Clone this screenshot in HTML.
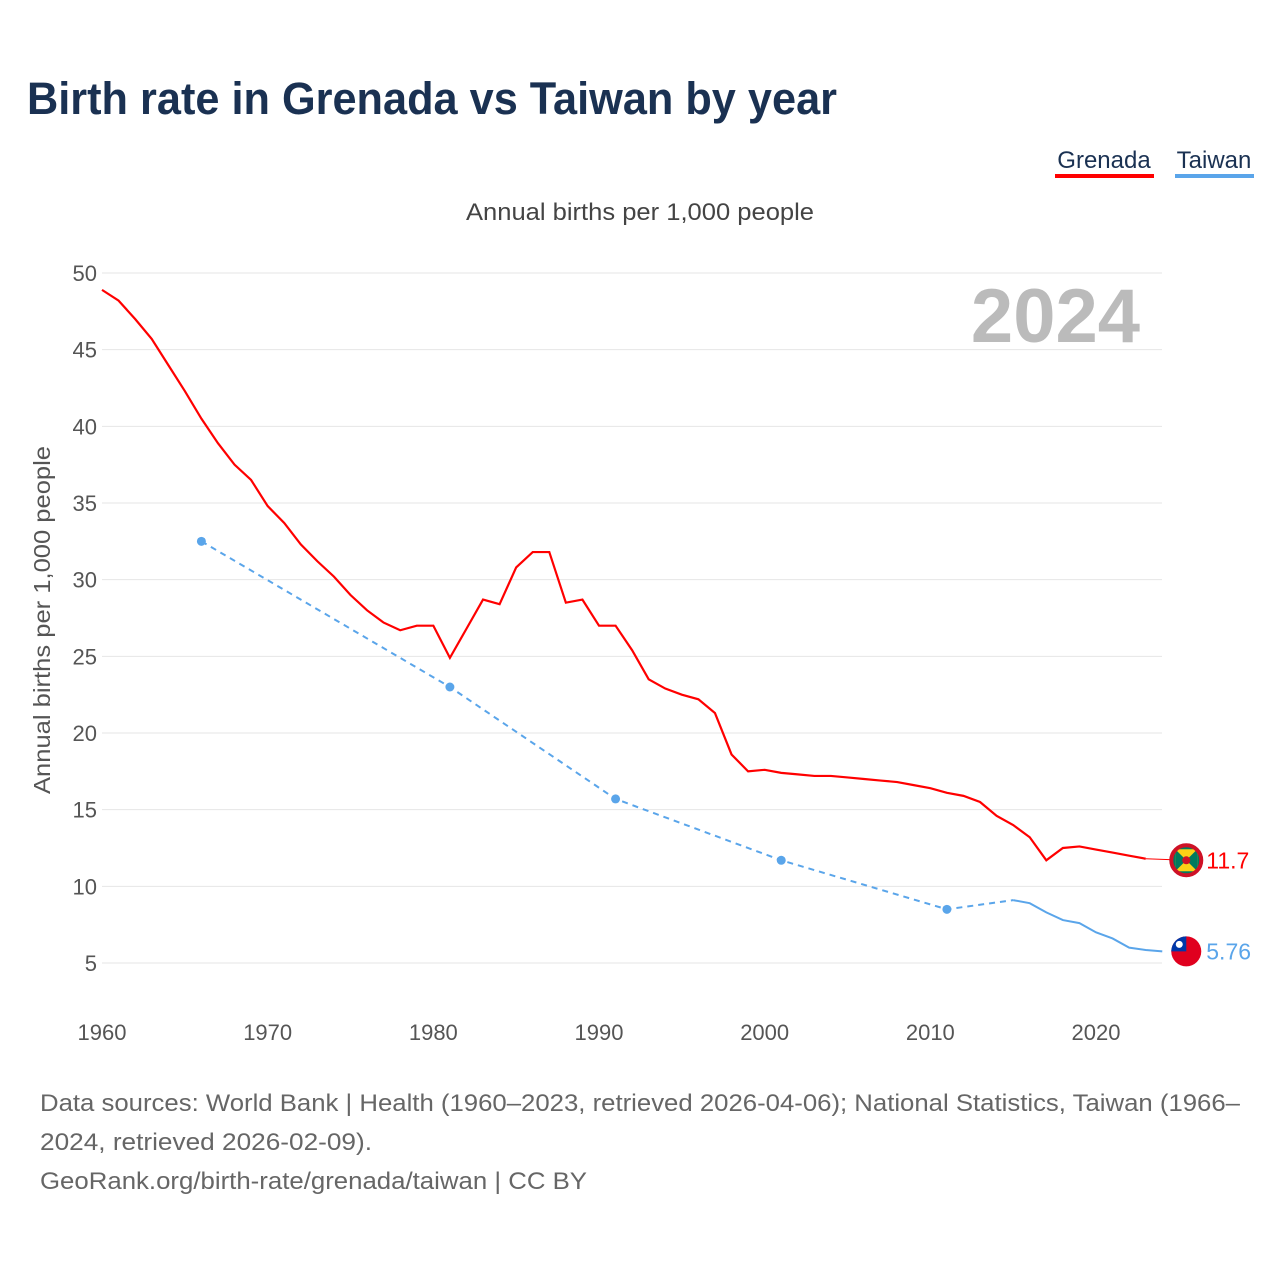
<!DOCTYPE html>
<html><head><meta charset="utf-8"><style>
body{margin:0;background:#fff;font-family:"Liberation Sans",sans-serif}
</style></head><body>
<svg width="1280" height="1280" xmlns="http://www.w3.org/2000/svg" font-family="Liberation Sans, sans-serif">
<text x="27" y="114" font-size="45" font-weight="bold" fill="#1a3152" textLength="810" lengthAdjust="spacingAndGlyphs">Birth rate in Grenada vs Taiwan by year</text>
<g><text x="1104" y="168" font-size="24" fill="#1a3152" text-anchor="middle">Grenada</text><rect x="1055" y="174" width="99" height="4" fill="#f00"/></g>
<g><text x="1214" y="168" font-size="24" fill="#1a3152" text-anchor="middle">Taiwan</text><rect x="1175" y="174" width="79" height="4" fill="#5aa5ea"/></g>
<text x="466" y="220" font-size="24" fill="#444" textLength="348" lengthAdjust="spacingAndGlyphs">Annual births per 1,000 people</text>
<text x="1140" y="342" font-size="76" font-weight="bold" fill="#bbb" text-anchor="end">2024</text>
<text transform="translate(50,620) rotate(-90)" font-size="23" fill="#555" text-anchor="middle" textLength="348" lengthAdjust="spacingAndGlyphs">Annual births per 1,000 people</text>
<g id="grid"></g><g id="series"></g>
<g font-size="24" fill="#666">
<text x="40" y="1111" textLength="1200" lengthAdjust="spacingAndGlyphs">Data sources: World Bank | Health (1960–2023, retrieved 2026-04-06); National Statistics, Taiwan (1966–</text>
<text x="40" y="1150" textLength="332" lengthAdjust="spacingAndGlyphs">2024, retrieved 2026-02-09).</text>
<text x="40" y="1189" textLength="547" lengthAdjust="spacingAndGlyphs">GeoRank.org/birth-rate/grenada/taiwan | CC BY</text>
</g>
</svg>
<script>
const yTicks=[5,10,15,20,25,30,35,40,45,50];
const xTicks=[1960,1970,1980,1990,2000,2010,2020];
const grenadaYears=[];for(let y=1960;y<=2023;y++)grenadaYears.push(y);
const grenadaValues=[48.9,48.2,47.0,45.7,44.0,42.3,40.5,38.9,37.5,36.5,34.8,33.7,32.3,31.2,30.2,29.0,28.0,27.2,26.7,27.0,27.0,24.9,26.8,28.7,28.4,30.8,31.8,31.8,28.5,28.7,27.0,27.0,25.4,23.5,22.9,22.5,22.2,21.3,18.6,17.5,17.6,17.4,17.3,17.2,17.2,17.1,17.0,16.9,16.8,16.6,16.4,16.1,15.9,15.5,14.6,14.0,13.2,11.7,12.5,12.6,12.4,12.2,12.0,11.8];
const grenadaLatest=11.7;
const taiwanSparseYears=[1966,1981,1991,2001,2011];
const taiwanSparseValues=[32.5,23.0,15.7,11.7,8.5];
const taiwanYears=[2015,2016,2017,2018,2019,2020,2021,2022,2023,2024];
const taiwanValues=[9.1,8.9,8.3,7.8,7.6,7.0,6.6,6.0,5.85,5.76];
const X=y=>102+(y-1960)*(994/60);
const Y=v=>963-(v-5)*(690/45);
const NS='http://www.w3.org/2000/svg';
function mk(t,a,p){const e=document.createElementNS(NS,t);for(const k in a)e.setAttribute(k,a[k]);p.appendChild(e);return e;}
const g=document.getElementById('grid'),s=document.getElementById('series');
yTicks.forEach(v=>{
 const l=mk('line',{x1:102,x2:1162,y1:Y(v),y2:Y(v),stroke:'#e6e6e6'},g);
 
 
 const t=mk('text',{x:97,y:Y(v)+8,'font-size':22,fill:'#555','text-anchor':'end'},g);t.textContent=v;
 
 
});
xTicks.forEach(v=>{
 const t=mk('text',{x:X(v),y:1040,'font-size':22,fill:'#555','text-anchor':'middle'},g);t.textContent=v;
 
 
});
const gp=mk('path',{d:grenadaValues.map((v,i)=>(i?'L':'M')+X(grenadaYears[i])+','+Y(v)).join(''),fill:'none',stroke:'#f00','stroke-width':2.2},s);


const gl=mk('line',{x1:X(2023),y1:Y(grenadaValues[grenadaValues.length-1]),x2:X(2024)+24,y2:Y(grenadaLatest),stroke:'#f00','stroke-width':1},s);


const dp=[...taiwanSparseYears.map((y,i)=>[y,taiwanSparseValues[i]]),[taiwanYears[0],taiwanValues[0]]];
const td=mk('path',{d:dp.map((p,i)=>(i?'L':'M')+X(p[0])+','+Y(p[1])).join(''),fill:'none',stroke:'#5aa5ea','stroke-width':2,'stroke-dasharray':'6,5'},s);


taiwanSparseYears.forEach((y,i)=>{
 const c=mk('circle',{cx:X(y),cy:Y(taiwanSparseValues[i]),r:4.5,fill:'#5aa5ea'},s);
 
 
});
const tp=mk('path',{d:taiwanValues.map((v,i)=>(i?'L':'M')+X(taiwanYears[i])+','+Y(v)).join(''),fill:'none',stroke:'#5aa5ea','stroke-width':2},s);


const fx=X(2024)+24;
const gy=Y(grenadaLatest);
const f1=mk('g',{},s);


mk('circle',{cx:fx,cy:gy,r:15,fill:'#007a5e'},f1);
mk('rect',{x:fx-11,y:gy-11,width:22,height:22,fill:'#fcd116'},f1);
mk('path',{d:`M${fx-11},${gy-11}L${fx+11},${gy+11}L${fx+11},${gy-11}L${fx-11},${gy+11}Z`,fill:'#007a5e'},f1);
mk('circle',{cx:fx,cy:gy,r:15,fill:'none',stroke:'#ce1126','stroke-width':4},f1);
mk('circle',{cx:fx,cy:gy,r:4,fill:'#ce1126'},f1);
const t1=mk('text',{x:fx+20,y:gy+8,'font-size':23,fill:'#f00'},s);t1.textContent=grenadaLatest;


const ty=Y(taiwanValues[taiwanValues.length-1]);
const f2=mk('g',{},s);


mk('circle',{cx:fx,cy:ty,r:15,fill:'#e0001e'},f2);
mk('path',{d:`M${fx-15},${ty}A15,15 0 0 1 ${fx},${ty-15}L${fx},${ty}Z`,fill:'#0038a8'},f2);
mk('circle',{cx:fx-7,cy:ty-7,r:3.5,fill:'#fff'},f2);
const t2=mk('text',{x:fx+20,y:ty+8,'font-size':23,fill:'#5aa5ea'},s);t2.textContent=taiwanValues[taiwanValues.length-1];


</script>
</body></html>
